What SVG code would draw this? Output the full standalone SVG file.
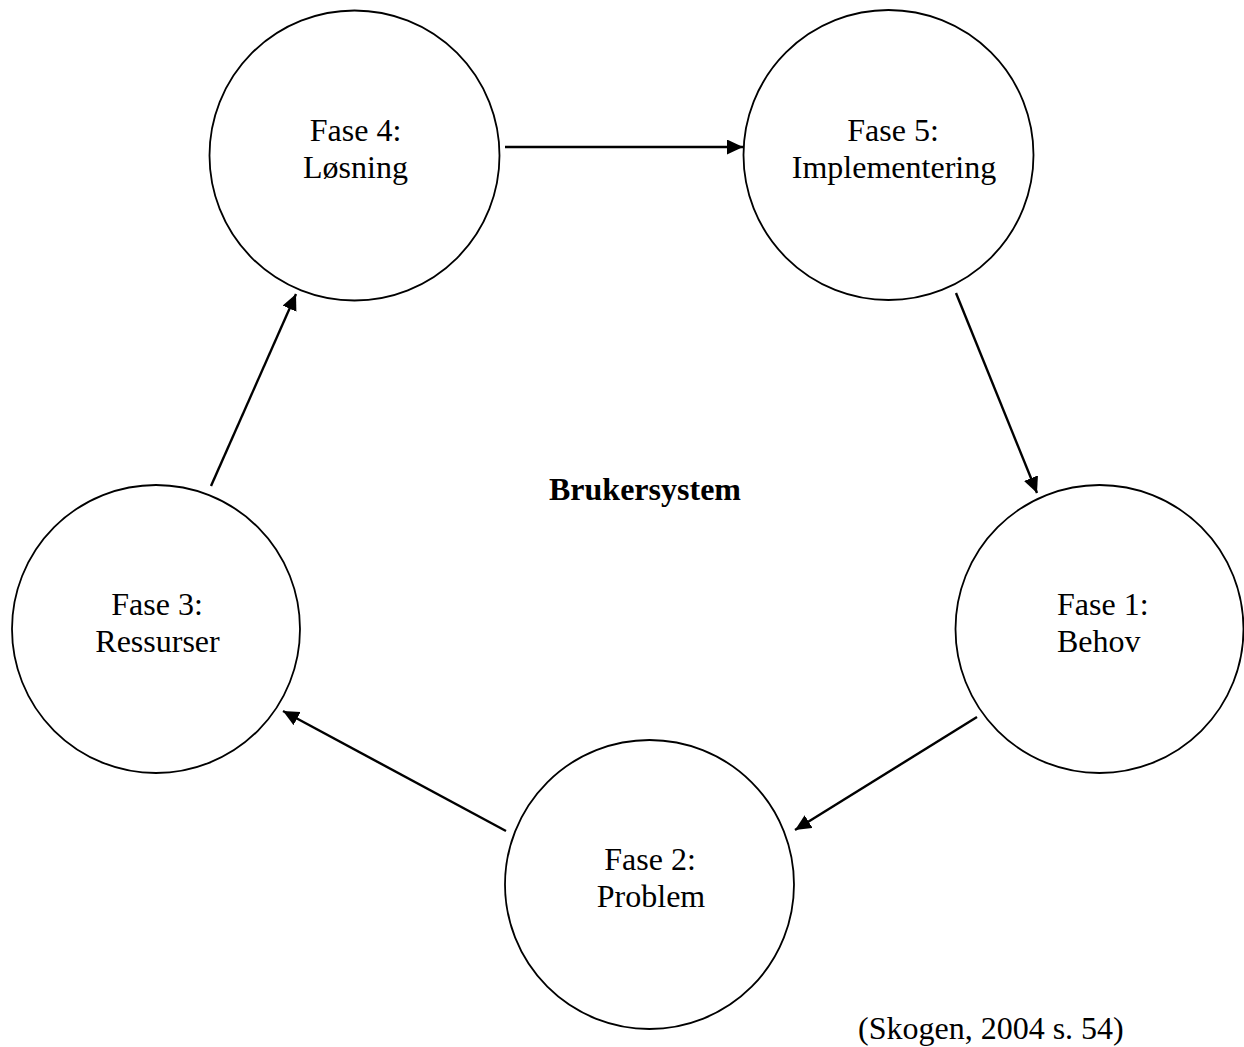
<svg xmlns="http://www.w3.org/2000/svg" width="1244" height="1047" viewBox="0 0 1244 1047">
<style>
.node circle{fill:#fff;stroke:#000;stroke-width:1.8}
text{font-family:"Liberation Serif","Times New Roman",serif;font-size:32px;fill:#000}
.c{text-anchor:middle}
.conn line{stroke:#000;stroke-width:2.4;marker-end:url(#ah)}
</style>
<defs>
<marker id="ah" markerUnits="userSpaceOnUse" markerWidth="17" markerHeight="16" refX="16" refY="7.5" orient="auto">
<path d="M0,0 L16,7.5 L0,15 z" fill="#000"/>
</marker>
</defs>
<rect width="1244" height="1047" fill="#fff"/>
<g id="fase4" class="node">
<circle cx="354.5" cy="155.5" r="145"/>
<text class="c" x="355.5" y="141">Fase 4:</text>
<text class="c" x="355.5" y="178">Løsning</text>
</g>
<g id="fase5" class="node">
<circle cx="888.5" cy="155" r="145"/>
<text class="c" x="893" y="141">Fase 5:</text>
<text class="c" x="894" y="178">Implementering</text>
</g>
<g id="fase1" class="node">
<circle cx="1099.5" cy="629" r="144"/>
<text x="1057" y="615">Fase 1:</text>
<text x="1057" y="652">Behov</text>
</g>
<g id="fase3" class="node">
<circle cx="156" cy="629" r="144"/>
<text class="c" x="157" y="615">Fase 3:</text>
<text class="c" x="157.5" y="652">Ressurser</text>
</g>
<g id="fase2" class="node">
<circle cx="649.5" cy="884.5" r="144.5"/>
<text class="c" x="650" y="870">Fase 2:</text>
<text class="c" x="651" y="907">Problem</text>
</g>
<g id="center-label">
<text class="c" x="645" y="500" font-weight="bold">Brukersystem</text>
</g>
<g id="citation">
<text x="858" y="1039">(Skogen, 2004 s. 54)</text>
</g>
<g id="connectors" class="conn">
<line x1="505" y1="147" x2="743" y2="147"/>
<line x1="956" y1="293" x2="1037" y2="493"/>
<line x1="977" y1="717" x2="795" y2="830"/>
<line x1="506" y1="831" x2="283" y2="711"/>
<line x1="211" y1="486" x2="296" y2="294"/>
</g>
</svg>
